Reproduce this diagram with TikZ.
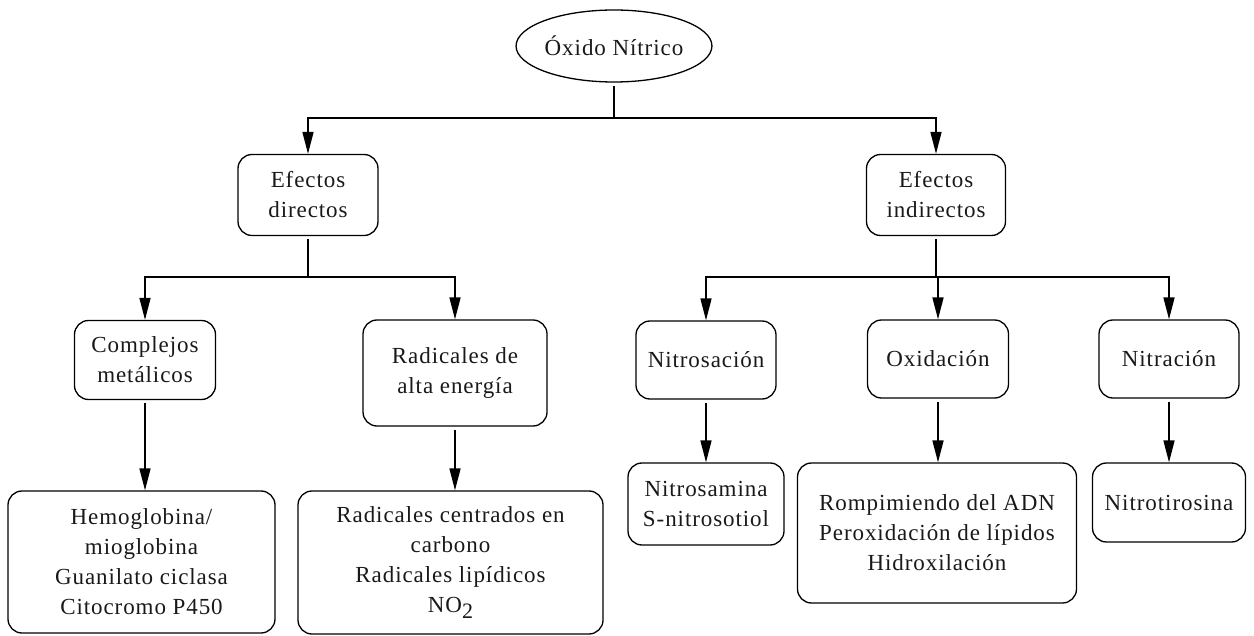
\documentclass[tikz,border=0pt]{standalone}
\usepackage{fontspec}
\setmainfont{Liberation Serif}[LetterSpace=4]
\usetikzlibrary{shapes.geometric,arrows.meta}
\begin{document}
\begin{tikzpicture}[x=1pt,y=-1pt,
  txt/.style={align=center, inner sep=0pt, font=\fontsize{23}{30}\selectfont, text=black!90},
  box/.style={txt, draw, rounded corners=14pt, line width=1.3pt},
  oval/.style={txt, draw, ellipse, line width=1.3pt},
  link/.style={line width=1.6pt, shorten <=3pt},
  arr/.style={line width=1.6pt, -{Triangle[length=22pt,width=11pt]}},
  arrs/.style={arr, shorten <=3pt}]
\useasboundingbox (0,0) rectangle (1254,636);
% nodes
\node[oval, minimum width=194pt, minimum height=72pt] (root) at (614,46) {Óxido Nítrico};
\node[box, minimum width=140pt, minimum height=81pt] (ed) at (308,195) {Efectos\\directos};
\node[box, minimum width=139pt, minimum height=81pt] (ei) at (936,195) {Efectos\\indirectos};
\node[box, minimum width=141pt, minimum height=79pt] (cm) at (145,360) {Complejos\\metálicos};
\node[box, minimum width=184pt, minimum height=106pt] (ra) at (455,373) {Radicales de\\alta energía};
\node[box, minimum width=140pt, minimum height=78pt] (ni) at (706,360) {Nitrosación};
\node[box, minimum width=141pt, minimum height=78pt] (ox) at (938,359) {Oxidación};
\node[box, minimum width=140pt, minimum height=78pt] (na) at (1169,359) {Nitración};
\node[box, minimum width=267pt, minimum height=142pt] (hb) at (141.5,562) {Hemoglobina/\\mioglobina\\Guanilato ciclasa\\Citocromo P450};
\node[box, minimum width=305pt, minimum height=143pt] (rc) at (450.5,562.5) {Radicales centrados en\\carbono\\Radicales lipídicos\\NO\raisebox{-6pt}{\fontsize{22}{22}\selectfont 2}};
\node[box, minimum width=156pt, minimum height=82pt] (ns) at (706,504) {Nitrosamina\\S-nitrosotiol};
\node[box, minimum width=279pt, minimum height=140pt] (rp) at (937,533) {Rompimiendo del ADN\\Peroxidación de lípidos\\Hidroxilación};
\node[box, minimum width=153pt, minimum height=79pt] (nt) at (1169,502.5) {Nitrotirosina};
% junctions
\coordinate (j0) at (614,118);
\coordinate (j1) at (308,277);
\coordinate (j2) at (936,277);
% connectors
\draw[link] (root) -- (j0);
\draw[arr] (j0) -| (ed);
\draw[arr] (j0) -| (ei);
\draw[link] (ed) -- (j1);
\draw[arr] (j1) -| (cm);
\draw[arr] (j1) -| (ra);
\draw[link] (ei) -- (j2);
\draw[arr] (j2) -| (ni);
\draw[arr] (j2) -| (ox);
\draw[arr] (j2) -| (na);
\draw[arrs] (cm) -- (cm.south |- hb.north);
\draw[arrs] (ra) -- (ra.south |- rc.north);
\draw[arrs] (ni) -- (ni.south |- ns.north);
\draw[arrs] (ox) -- (ox.south |- rp.north);
\draw[arrs] (na) -- (na.south |- nt.north);
\end{tikzpicture}
\end{document}
